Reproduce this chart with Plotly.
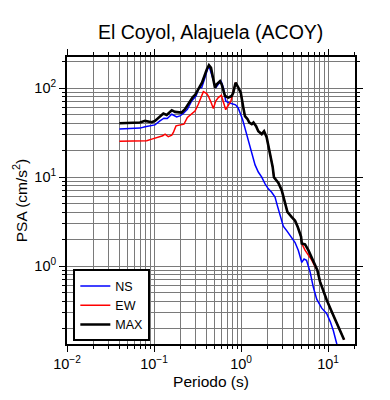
import plotly.graph_objects as go

# ---- data ----
T_max = [0.040, 0.069, 0.0789, 0.0942, 0.1026, 0.117, 0.128, 0.140, 0.160, 0.174,
         0.190, 0.208, 0.227, 0.248, 0.279, 0.296, 0.332, 0.356, 0.404, 0.428,
         0.452, 0.481, 0.502, 0.526, 0.574, 0.600, 0.655, 0.714, 0.782, 0.815,
         0.865, 0.931, 0.993, 1.062, 1.11, 1.19, 1.245, 1.33, 1.39, 1.49,
         1.58, 1.73, 1.84, 1.97, 2.15, 2.31, 2.39, 2.69, 2.94, 3.21,
         3.41, 3.83, 4.18, 4.49, 4.90, 4.99, 5.44, 5.94, 6.50, 7.10,
         7.54, 8.09, 8.69, 9.66, 11.0, 12.6, 15.3]
psa_max = [40.3, 41.0, 42.8, 41.4, 42.8, 47.4, 51.8, 49.9, 56.4, 54.0,
           54.0, 53.1, 57.8, 65.8, 79.3, 83.5, 102.6, 114.9, 161.7, 180.7,
           169.0, 130.7, 101.0, 110.0, 119.8, 110.0, 81.4, 78.1, 81.4, 88.9,
           114.9, 101.0, 88.9, 60.4, 48.3, 44.7, 41.0, 39.3, 41.0, 37.3,
           32.8, 30.4, 32.8, 28.1, 19.1, 13.0, 9.97, 8.61, 7.07, 5.25,
           4.06, 3.56, 3.24, 2.75, 2.13, 1.79, 1.75, 1.51, 1.24, 1.07,
           0.902, 0.670, 0.540, 0.417, 0.309, 0.229, 0.149]

T_ns = [0.040, 0.069, 0.0789, 0.0899, 0.1026, 0.117, 0.130, 0.142, 0.160, 0.182,
        0.199, 0.217, 0.242, 0.271, 0.304, 0.329, 0.353, 0.385, 0.421, 0.441,
        0.481, 0.512, 0.548, 0.589, 0.627, 0.667, 0.714, 0.794, 0.865, 0.925,
        0.982, 1.04, 1.11, 1.20, 1.33, 1.45, 1.58, 1.73, 1.89, 2.06,
        2.25, 2.46, 2.61, 2.81, 3.06, 3.38, 3.83, 4.18, 4.56, 4.99,
        5.30, 5.66, 6.21, 6.78, 7.41, 8.47, 9.66, 10.6, 11.5, 12.6, 13.4]
psa_ns = [34.6, 35.5, 36.7, 37.3, 38.6, 42.8, 45.9, 45.5, 50.8, 47.4,
          48.7, 51.8, 57.8, 71.6, 81.4, 101.0, 101.0, 130.7, 176.0, 161.7,
          119.8, 101.0, 110.0, 119.8, 101.0, 71.6, 68.7, 66.9, 64.9, 60.1,
          52.2, 44.7, 35.5, 26.7, 18.2, 13.7, 11.4, 9.97, 8.39, 7.38,
          6.75, 5.96, 4.81, 3.71, 2.81, 2.47, 2.09, 1.84, 1.50, 1.10,
          1.20, 1.16, 0.865, 0.578, 0.425, 0.337, 0.292, 0.238, 0.189, 0.140, 0.106]

T_ew = [0.040, 0.0824, 0.0942, 0.107, 0.126, 0.134, 0.146, 0.160, 0.167, 0.179,
        0.199, 0.221, 0.242, 0.271, 0.296, 0.323, 0.347, 0.369, 0.404, 0.421,
        0.452, 0.481, 0.512, 0.548, 0.594, 0.627, 0.667, 0.714, 0.767, 0.815,
        0.865, 0.931, 0.993, 1.062, 1.11, 1.19, 1.245, 1.33, 1.39, 1.49,
        1.58, 1.73, 1.84, 1.97, 2.15, 2.31, 2.39, 2.69, 2.94, 3.21,
        3.41, 3.83, 4.18, 4.49, 4.90, 4.99, 5.44, 5.94, 6.50, 7.10,
        7.54, 8.09, 8.69, 9.66, 11.0, 12.6, 15.3]
psa_ew = [25.2, 25.6, 26.7, 27.9, 29.1, 30.4, 28.4, 29.6, 31.7, 37.6,
          38.6, 39.3, 46.7, 50.8, 55.3, 65.8, 79.3, 91.1, 86.6, 81.4,
          69.2, 58.9, 71.6, 78.1, 82.9, 67.5, 57.1, 64.1, 71.6, 91.9,
          114.9, 101.0, 88.9, 60.4, 48.3, 44.7, 41.0, 39.3, 41.0, 37.3,
          32.8, 30.4, 32.8, 28.1, 19.1, 13.0, 9.97, 8.61, 7.07, 5.25,
          4.06, 3.56, 3.24, 2.75, 2.13, 1.79, 1.51, 1.33, 1.17, 0.984,
          0.902, 0.670, 0.540, 0.417, 0.309, 0.229, 0.149]

x_tickvals = [0.01, 0.1, 1, 10]
x_ticktext = ["10<sup>−2</sup>", "10<sup>−1</sup>", "10<sup>0</sup>", "10<sup>1</sup>"]
y_tickvals = [1, 10, 100]
y_ticktext = ["10<sup>0</sup>", "10<sup>1</sup>", "10<sup>2</sup>"]

title_text = "El Coyol, Alajuela (ACOY)"
x_title = "Periodo (s)"
y_title = "PSA (cm/s<sup>2</sup>)"

FONT = "Liberation Sans, Arial, Helvetica, sans-serif"

fig = go.Figure()
fig.add_trace(go.Scatter(x=T_ns, y=psa_ns, mode="lines", name="NS",
                         line=dict(color="#0000ff", width=1.5)))
fig.add_trace(go.Scatter(x=T_ew, y=psa_ew, mode="lines", name="EW",
                         line=dict(color="#ff0000", width=1.5)))
fig.add_trace(go.Scatter(x=T_max, y=psa_max, mode="lines", name="MAX",
                         line=dict(color="#000000", width=2.6)))

axis_common = dict(
    type="log",
    showline=True, linecolor="black", linewidth=2, mirror="ticks",
    ticks="outside", ticklen=6, tickwidth=1, tickcolor="black",
    showgrid=True, gridcolor="#7a7a7a", gridwidth=1,
    minor=dict(dtick="D1", showgrid=True, gridcolor="#7a7a7a", gridwidth=1,
               ticks="outside", ticklen=3, tickcolor="black", tickwidth=1),
    tickmode="array",
    tickfont=dict(family=FONT, size=14.5, color="black"),
    zeroline=False,
)

fig.update_xaxes(range=[-2, 1.31], tickvals=x_tickvals, ticktext=x_ticktext,
                 title=dict(text=x_title, font=dict(family=FONT, size=15.5, color="black"), standoff=5),
                 **axis_common)
fig.update_yaxes(range=[-0.875, 2.349], tickvals=y_tickvals, ticktext=y_ticktext,
                 title=dict(text=y_title, font=dict(family=FONT, size=15.5, color="black"), standoff=3),
                 **axis_common)

fig.update_layout(
    width=390, height=400,
    margin=dict(l=67, r=35, t=57, b=54),
    paper_bgcolor="white", plot_bgcolor="white",
    title=dict(text=title_text, x=0.54, xanchor="center", y=0.92, yanchor="middle",
               font=dict(family=FONT, size=19.5, color="black")),
    showlegend=True,
    legend=dict(x=0.022, y=0.26, xanchor="left", yanchor="top",
                bgcolor="white", bordercolor="black", borderwidth=2,
                font=dict(family=FONT, size=12.5, color="black"),
                itemwidth=30, tracegroupgap=0),
)

fig.write_html("out.html")
